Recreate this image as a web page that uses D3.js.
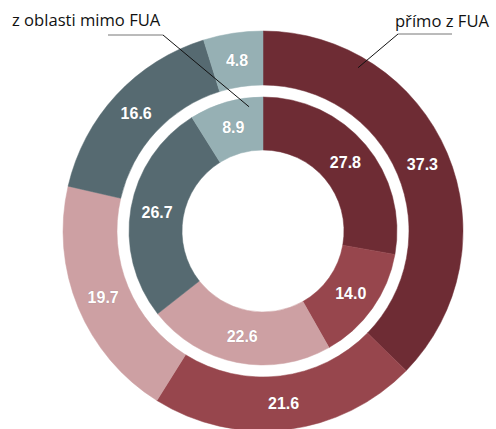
<!DOCTYPE html>
<html><head><meta charset="utf-8">
<script src="https://cdn.jsdelivr.net/npm/d3@7"></script>
<style>
html,body{margin:0;padding:0;background:#fff;}
svg{display:block;}
</style></head>
<body>
<svg id="chart" width="496" height="429"></svg>
<script>
const categories = ["A", "B", "C", "D", "E"];
const outerValues = [37.3, 21.6, 19.7, 16.6, 4.8];
const innerValues = [27.8, 14.0, 22.6, 26.7, 8.9];
const colors = ["#6e2c34", "#97464d", "#cda0a3", "#566a71", "#96b0b4"];
const callouts = ["z oblasti mimo FUA", "přímo z FUA"];

const svg = d3.select("#chart");
const cx = 263, cy = 231;
const g = svg.append("g").attr("transform", `translate(${cx},${cy})`);

const pie = d3.pie().sort(null).value(d => d.v);
const color = d3.scaleOrdinal().domain(categories).range(colors);

const rings = [
  {values: outerValues, r0: 146, r1: 200},
  {values: innerValues, r0: 81, r1: 134}
];

rings.forEach(ring => {
  const data = categories.map((c, i) => ({c, v: ring.values[i]}));
  const arcs = pie(data);
  const arc = d3.arc().innerRadius(ring.r0).outerRadius(ring.r1);
  g.append("g").selectAll("path").data(arcs).join("path")
    .attr("d", arc)
    .attr("fill", d => color(d.data.c))
    .attr("stroke", d => color(d.data.c))
    .attr("stroke-width", 0.5);
  g.append("g").selectAll("text").data(arcs).join("text")
    .attr("transform", d => `translate(${arc.centroid(d)})`)
    .attr("text-anchor", "middle")
    .attr("dy", "0.36em")
    .attr("font-family", "'Liberation Sans', Arial, sans-serif")
    .attr("font-weight", "bold")
    .attr("font-size", 16)
    .attr("fill", "#fff")
    .attr("stroke", "rgba(90,90,90,0.35)")
    .attr("stroke-width", 0.6)
    .attr("paint-order", "stroke")
    .text(d => d.data.v.toFixed(1));
});

// callouts
const ann = svg.append("g").attr("font-family", "'Open Sans', 'Noto Sans', sans-serif").attr("font-size", 16.6).attr("fill", "#111");
ann.append("text").attr("x", 12).attr("y", 26).text(callouts[0]);
ann.append("text").attr("x", 489).attr("y", 27).attr("text-anchor", "end").text(callouts[1]);

// leader lines: tips placed by angle/radius on the rings
const innerArcs = pie(categories.map((c, i) => ({c, v: innerValues[i]})));
const outerArcs = pie(categories.map((c, i) => ({c, v: outerValues[i]})));
const pointAt = (angle, r) => [cx + r * Math.sin(angle), cy - r * Math.cos(angle)];
const e = innerArcs[4];
const tipL = pointAt(e.startAngle + 0.8 * (e.endAngle - e.startAngle), 125);
const a = outerArcs[0];
const tipR = pointAt(a.startAngle + 0.225 * (a.endAngle - a.startAngle), 189);

ann.append("line").attr("x1", 108).attr("y1", 35).attr("x2", 163).attr("y2", 35).attr("stroke", "#777").attr("stroke-width", 1);
ann.append("line").attr("x1", 163).attr("y1", 35).attr("x2", tipL[0]).attr("y2", tipL[1]).attr("stroke", "#111").attr("stroke-width", 1);
ann.append("line").attr("x1", 398).attr("y1", 34).attr("x2", 452).attr("y2", 34).attr("stroke", "#777").attr("stroke-width", 1);
ann.append("line").attr("x1", 398).attr("y1", 34).attr("x2", tipR[0]).attr("y2", tipR[1]).attr("stroke", "#111").attr("stroke-width", 1);
</script>
</body></html>
